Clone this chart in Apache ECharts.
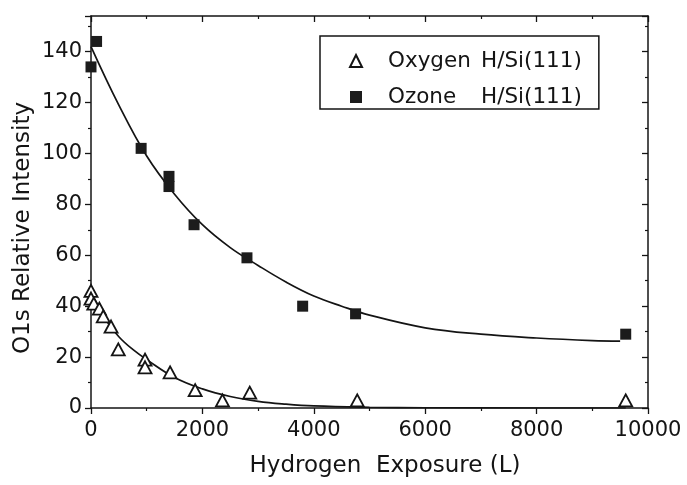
<!DOCTYPE html>
<html>
<head>
<meta charset="utf-8">
<script src="https://cdn.jsdelivr.net/npm/echarts@6/dist/echarts.min.js"></script>
<style>
  html, body { margin: 0; padding: 0; background: #fff; }
  #chart { width: 687px; height: 485px; }
</style>
</head>
<body>
<div id="chart"></div>
<script>
const ozoneX = [0, 100, 900, 1400, 1400, 1850, 2800, 3800, 4750, 9600]
const ozoneY = [134, 144, 102, 91, 87, 72, 59, 40, 37, 29]
const oxygenX = [0, 0, 50, 150, 220, 360, 490, 970, 970, 1420, 1870, 2360, 2850, 4780, 9600]
const oxygenY = [46, 43, 41, 39, 36, 32, 23, 19, 16, 14, 7, 3, 6, 3, 3]

// fitted curves as drawn in the figure
const ozoneFitX = [0, 500, 1000, 1500, 2000, 2500, 3000, 3500, 4000, 4500, 5000, 6000, 7000, 8000, 9000, 9500]
const ozoneFitY = [142, 119, 99, 84, 72, 63, 56, 49.5, 44, 40, 36.5, 31.5, 29, 27.5, 26.5, 26.3]
const oxygenFitX = [0, 250, 500, 750, 1000, 1500, 2000, 2500, 3000, 3500, 4000, 5000, 6000, 8000, 9600]
const oxygenFitY = [43, 35, 28, 23, 19, 12, 7.5, 4.5, 2.6, 1.5, 0.8, 0.3, 0.1, 0, 0]

const seriesNames = ['Oxygen H/Si(111)', 'Ozone H/Si(111)']
const xTitle = 'Hydrogen  Exposure (L)'
const yTitle = 'O1s Relative Intensity'

const FONT = '"DejaVu Sans", sans-serif'
const INK = '#141414'

function pairs(xs, ys) {
  return xs.map((x, i) => [x, ys[i]])
}

function frameAxis(extra) {
  return Object.assign({
    type: 'value',
    axisLine: { show: true, onZero: false, lineStyle: { color: INK, width: 1.5 } },
    axisTick: { show: true, length: 6, lineStyle: { color: INK, width: 1.3 } },
    minorTick: { show: true, splitNumber: 2, length: 3, lineStyle: { color: INK, width: 1.2 } },
    splitLine: { show: false },
    minorSplitLine: { show: false },
  }, extra)
}

function getOption() {
  const xBase = { min: 0, max: 10000, interval: 2000 }
  const yBase = { min: 0, max: 154, interval: 20 }
  const labelStyle = { color: INK, fontFamily: FONT, fontSize: 21, formatter: (v) => String(v) }

  return {
    animation: false,
    backgroundColor: '#fff',
    grid: { left: 91, right: 39, top: 16, bottom: 77 },
    xAxis: [
      frameAxis(Object.assign({
        position: 'bottom',
        axisLabel: Object.assign({ margin: 12, showMaxLabel: true }, labelStyle),
      }, xBase)),
      frameAxis(Object.assign({
        position: 'top',
        axisLabel: { show: false },
        axisTick: { show: true, inside: true, length: 6, lineStyle: { color: INK, width: 1.3 } },
        minorTick: { show: true, inside: true, splitNumber: 2, length: 3, lineStyle: { color: INK, width: 1.2 } },
      }, xBase)),
    ],
    yAxis: [
      frameAxis(Object.assign({
        position: 'left',
        axisLabel: Object.assign({ margin: 9, showMaxLabel: false }, labelStyle),
      }, yBase)),
      frameAxis(Object.assign({
        position: 'right',
        axisLabel: { show: false },
        axisTick: { show: true, inside: true, length: 6, lineStyle: { color: INK, width: 1.3 } },
        minorTick: { show: true, inside: true, splitNumber: 2, length: 3, lineStyle: { color: INK, width: 1.2 } },
      }, yBase)),
    ],
    legend: {
      data: seriesNames,
      orient: 'vertical',
      left: 320,
      top: 36,
      padding: [14, 17, 1, 29],
      itemGap: 14,
      itemWidth: 12,
      itemHeight: 12,
      borderColor: INK,
      borderWidth: 1.5,
      textStyle: { color: INK, fontFamily: FONT, fontSize: 21.5,
        rich: {
          s: { width: 21, fontFamily: FONT, fontSize: 21.5, lineHeight: 24 },
          o: { width: 93, color: INK, fontFamily: FONT, fontSize: 21.5, lineHeight: 24 },
          h: { color: INK, fontFamily: FONT, fontSize: 21.5, lineHeight: 24 },
        },
      },
      formatter: (name) => {
        const cut = name.indexOf(' ')
        return '{s| }{o|' + name.slice(0, cut) + '}{h|' + name.slice(cut + 1) + '}'
      },
    },
    graphic: [
      {
        type: 'text',
        x: 385, y: 466,
        style: { text: xTitle, fill: INK, font: '23px ' + FONT,
          align: 'center', verticalAlign: 'middle', textAlign: 'center', textVerticalAlign: 'middle' },
      },
      {
        type: 'text',
        x: 23, y: 228,
        rotation: Math.PI / 2,
        style: { text: yTitle, fill: INK, font: '23px ' + FONT,
          align: 'center', verticalAlign: 'middle', textAlign: 'center', textVerticalAlign: 'middle' },
      },
    ],
    series: [
      {
        name: 'oxygen fit',
        type: 'line',
        data: pairs(oxygenFitX, oxygenFitY),
        smooth: 0.4,
        showSymbol: false,
        lineStyle: { color: INK, width: 1.7 },
        z: 2,
      },
      {
        name: 'ozone fit',
        type: 'line',
        data: pairs(ozoneFitX, ozoneFitY),
        smooth: 0.4,
        showSymbol: false,
        lineStyle: { color: INK, width: 1.7 },
        z: 2,
      },
      {
        name: seriesNames[0],
        type: 'scatter',
        data: pairs(oxygenX, oxygenY),
        symbol: 'triangle',
        symbolSize: [13, 12],
        itemStyle: { color: '#fff', borderColor: INK, borderWidth: 1.8, opacity: 1 },
        z: 3,
      },
      {
        name: seriesNames[1],
        type: 'scatter',
        data: pairs(ozoneX, ozoneY),
        symbol: 'rect',
        symbolSize: 11,
        itemStyle: { color: '#1c1c1c', opacity: 1 },
        z: 3,
      },
    ],
  }
}

const chart = echarts.init(document.getElementById('chart'), null, { renderer: 'canvas' })
chart.setOption(getOption())
</script>
</body>
</html>
